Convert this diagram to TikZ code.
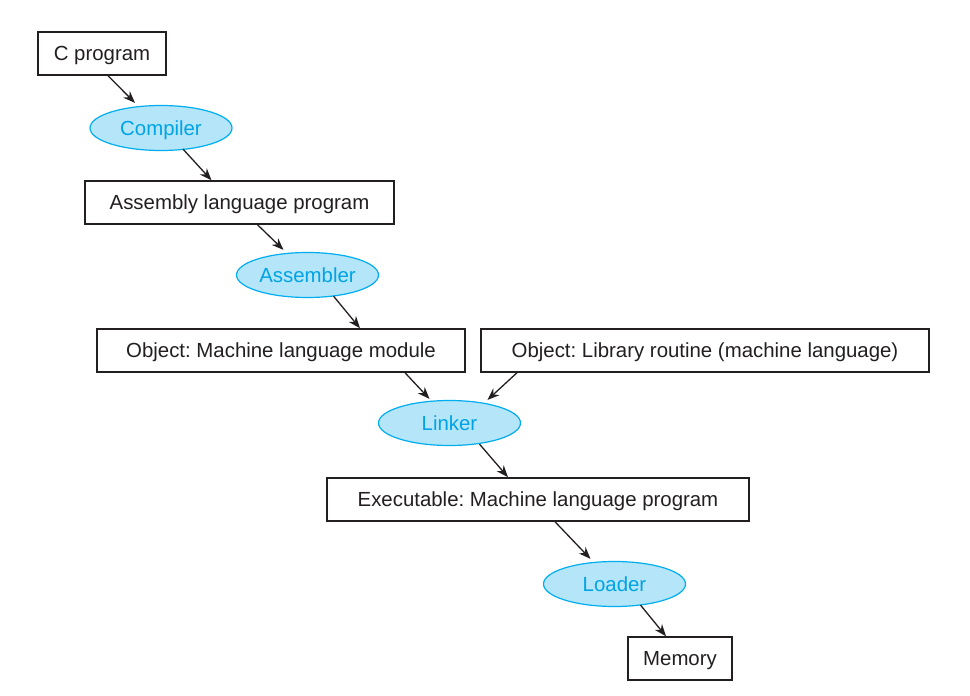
\documentclass[tikz,border=0pt]{standalone}
\usepackage{fontspec}
\setmainfont{Liberation Sans}
\usetikzlibrary{arrows.meta, shapes.geometric}
\frenchspacing

\definecolor{textgray}{RGB}{35,31,32}
\definecolor{ovalfill}{RGB}{180,229,249}
\definecolor{ovaldraw}{RGB}{0,174,239}
\definecolor{ovaltext}{RGB}{0,163,228}

\begin{document}
\begin{tikzpicture}[
    x=0.5pt, y=-0.5pt, % one unit is one pixel of the reference
    every node/.style={font=\fontsize{10.2}{12}\selectfont,
        text height=7.3pt, text depth=0pt},
    file/.style={draw=textgray, line width=0.75pt, fill=white, text=textgray,
        inner sep=0pt, minimum height=21.5pt},
    tool/.style={ellipse, draw=ovaldraw, line width=0.6pt, fill=ovalfill,
        text=ovaltext, inner sep=0pt, minimum width=71pt, minimum height=22.5pt},
    flow/.style={-{Stealth[length=6pt,width=4.6pt]}, line width=0.65pt, draw=textgray}
]
    \useasboundingbox (0,0) rectangle (970,696);

    % Place the nodes
    \node[file, minimum width=64pt]    (cprog)    at (102,53.5)   {C program};
    \node[tool]                        (compiler) at (161,128)    {Compiler};
    \node[file, minimum width=154.5pt] (asm)      at (239.5,202.5) {Assembly language program};
    \node[tool]                        (assembler) at (307.5,275) {Assembler};
    \node[file, minimum width=184pt]   (objmod)   at (281,350.5)  {Object: Machine language module};
    \node[file, minimum width=224pt]   (objlib)   at (705,350.5)  {Object: Library routine (machine language)};
    \node[tool]                        (linker)   at (449.5,423)  {Linker};
    \node[file, minimum width=211pt]   (exe)      at (538,499.5)  {Executable: Machine language program};
    \node[tool]                        (loader)   at (614.5,584)  {Loader};
    \node[file, minimum width=52pt]    (memory)   at (680,658.5)  {Memory};

    % Draw the arrows
    \draw[flow] ([xshift=3pt]cprog.south)      -- ([xshift=-13pt,yshift=1pt]compiler.north);
    \draw[flow] ([xshift=11pt,yshift=1pt]compiler.south) -- ([xshift=-14pt]asm.north);
    \draw[flow] ([xshift=9pt]asm.south)        -- ([xshift=-12pt,yshift=1pt]assembler.north);
    \draw[flow] ([xshift=13pt,yshift=1pt]assembler.south) -- ([xshift=39.5pt]objmod.north);
    \draw[flow] ([xshift=62pt]objmod.south)    -- ([xshift=-10pt,yshift=0.5pt]linker.north);
    \draw[flow] ([xshift=-94pt]objlib.south)   -- ([xshift=19pt,yshift=0pt]linker.north);
    \draw[flow] ([xshift=15pt,yshift=1pt]linker.south) -- ([xshift=-15pt]exe.north);
    \draw[flow] ([xshift=8.5pt]exe.south)      -- ([xshift=-12pt,yshift=1pt]loader.north);
    \draw[flow] ([xshift=13pt,yshift=1pt]loader.south) -- ([xshift=-7pt]memory.north);
\end{tikzpicture}
\end{document}
